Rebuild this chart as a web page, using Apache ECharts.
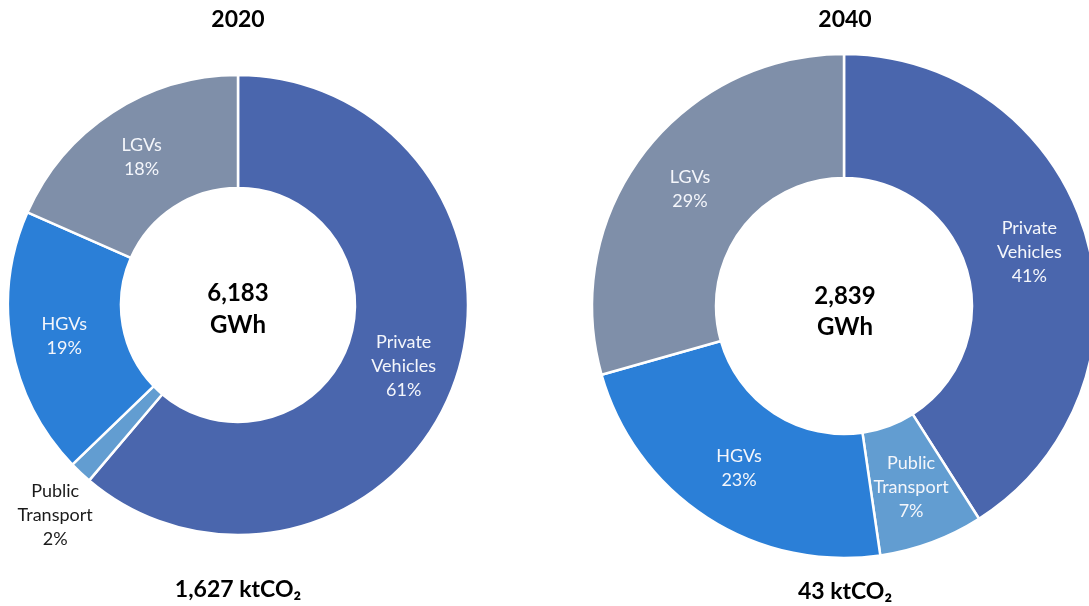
<!DOCTYPE html>
<html>
<head>
<meta charset="utf-8">
<script src="https://cdn.jsdelivr.net/npm/echarts@6/dist/echarts.min.js"></script>
<style>
html,body{margin:0;padding:0;background:#fff;}
#chart{width:1089px;height:606px;}
</style>
</head>
<body>
<div id="chart"></div>
<script>
// Data
const categories = ['Private\nVehicles', 'Public\nTransport', 'HGVs', 'LGVs'];
const share2020 = [61.2, 1.6, 18.8, 18.4];
const share2040 = [41.0, 6.7, 22.9, 29.4];
const years = ['2020', '2040'];
const energyLabels = ['6,183\nGWh', '2,839\nGWh'];
const emissionLabels = ['1,627 ktCO₂', '43 ktCO₂'];
const colors = ['#4a66ad', '#629dd1', '#2b7fd7', '#7f8fa9'];

const FONT = 'Lato, "Open Sans", sans-serif';
const chart = echarts.init(document.getElementById('chart'));

function pct(p) { return p.name + '\n' + Math.round(p.percent) + '%'; }

function makeSeries(values, center, radius, outsideIdx, dxdy) {
  return {
    type: 'pie',
    center: center,
    radius: radius,
    startAngle: 90,
    clockwise: true,
    avoidLabelOverlap: false,
    silent: true,
    itemStyle: { borderColor: '#fff', borderWidth: 2.5 },
    label: {
      show: true, position: 'inside', formatter: pct,
      color: '#f4f6fb', fontFamily: FONT, fontSize: 18, lineHeight: 24, align: 'center'
    },
    labelLine: { show: false },
    labelLayout: function (params) {
      if (params.dataIndex === outsideIdx) return { dx: dxdy[0], dy: dxdy[1] };
      return {};
    },
    data: values.map((v, i) => {
      const d = { name: categories[i], value: v, itemStyle: { color: colors[i] } };
      if (i === outsideIdx) d.label = { color: '#1a1a1a' };
      return d;
    })
  };
}

function txt(text, x, y, size, lh) {
  return {
    type: 'text', x: x, y: y,
    style: { text: text, fontFamily: FONT, fontWeight: 'bold', fontSize: size, lineHeight: lh || size * 1.2,
      fill: '#000', align: 'center', verticalAlign: 'middle' }
  };
}

chart.setOption({
  animation: false,
  series: [
    makeSeries(share2020, [238, 305], [117, 230], 1, [-62, 82]),
    makeSeries(share2040, [844, 306], [128, 252], -1, [0, 0])
  ],
  graphic: [
    txt(years[0], 238, 20, 23),
    txt(years[1], 845, 20, 23),
    txt(energyLabels[0], 238, 309, 24, 32),
    txt(energyLabels[1], 845, 312, 24, 31),
    txt(emissionLabels[0], 238, 590, 23),
    txt(emissionLabels[1], 845, 592, 23)
  ]
});
</script>
</body>
</html>
